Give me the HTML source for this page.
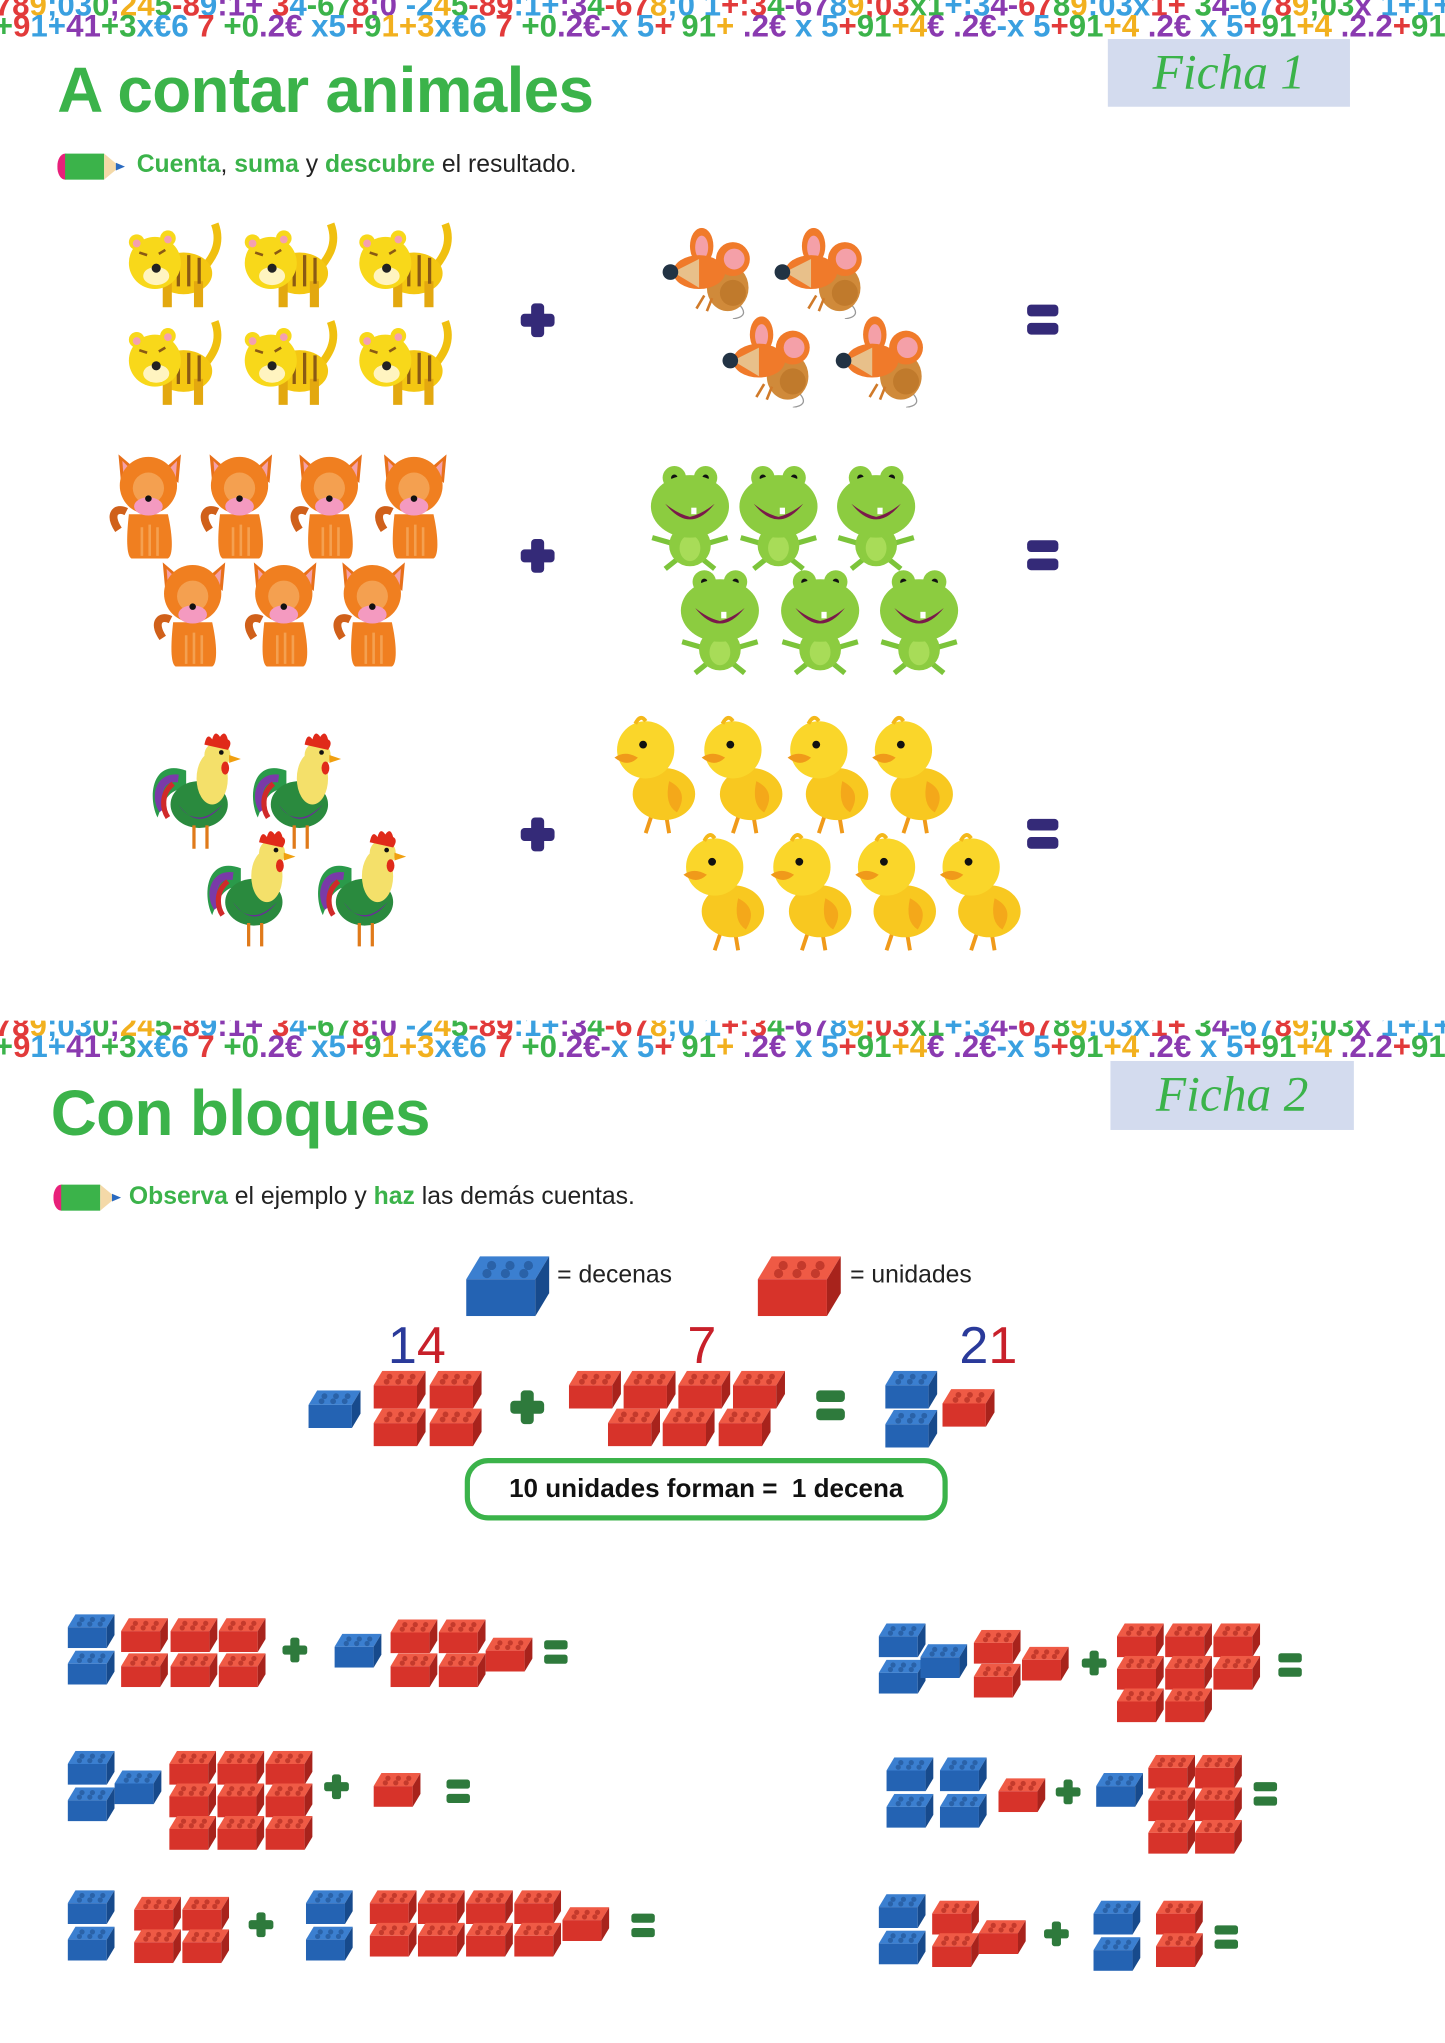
<!DOCTYPE html>
<html><head><meta charset="utf-8"><style>
html,body{margin:0;padding:0;background:#fff;}
body{width:1445px;height:2043px;overflow:hidden;position:relative;font-family:"Liberation Sans",sans-serif;}
#w{position:absolute;left:0;top:0;width:1110px;height:1569px;transform:scale(1.3018);transform-origin:0 0;}
.a{position:absolute;}
.strip{position:absolute;left:0;width:1110px;height:30px;overflow:hidden;white-space:nowrap;font:bold 24px "Liberation Sans",sans-serif;letter-spacing:0px;}
.strip div{position:absolute;left:-4px;line-height:24px;}
.tab{position:absolute;background:#d3dbee;color:#3bb34a;font:38px "Liberation Serif",serif;font-style:italic;text-align:center;}
.title{position:absolute;color:#3bb34a;font:bold 49px "Liberation Sans",sans-serif;letter-spacing:-0.5px;}
.ins{position:absolute;font:19px "Liberation Sans",sans-serif;color:#222;}
.ins b{color:#3bb34a;}
</style></head><body><div id="w">
<svg width="0" height="0" style="position:absolute">
<defs>
<symbol id="rb" viewBox="0 0 36 26"><polygon points="6,0 36,0 30,10 0,10" fill="#ef5a45"/><polygon points="0,10 30,10 30,26 0,26" fill="#d7332a"/><polygon points="30,10 36,0 36,16 30,26" fill="#a8231c"/><circle cx="11" cy="4" r="2" fill="#c43a2c"/><circle cx="19" cy="4" r="2" fill="#c43a2c"/><circle cx="27" cy="4" r="2" fill="#c43a2c"/><circle cx="9" cy="7.5" r="2" fill="#c43a2c"/><circle cx="17" cy="7.5" r="2" fill="#c43a2c"/><circle cx="25" cy="7.5" r="2" fill="#c43a2c"/></symbol>
<symbol id="bb" viewBox="0 0 36 26"><polygon points="6,0 36,0 30,10 0,10" fill="#3b7fd0"/><polygon points="0,10 30,10 30,26 0,26" fill="#2463b3"/><polygon points="30,10 36,0 36,16 30,26" fill="#174a8c"/><circle cx="11" cy="4" r="2" fill="#2a62a8"/><circle cx="19" cy="4" r="2" fill="#2a62a8"/><circle cx="27" cy="4" r="2" fill="#2a62a8"/><circle cx="9" cy="7.5" r="2" fill="#2a62a8"/><circle cx="17" cy="7.5" r="2" fill="#2a62a8"/><circle cx="25" cy="7.5" r="2" fill="#2a62a8"/></symbol>
<symbol id="tiger" viewBox="0 0 88 72"><path d="M62,40 C70,30 78,20 72,4" stroke="#f0c010" stroke-width="6" fill="none"/><ellipse cx="48" cy="42" rx="22" ry="16" fill="#f4c712"/><rect x="32" y="48" width="7" height="20" fill="#e3a80f"/><rect x="56" y="48" width="7" height="20" fill="#e3a80f"/><path d="M44,30 v22 M52,28 v24 M60,30 v20" stroke="#8a5a14" stroke-width="2.5"/><circle cx="26" cy="34" r="20" fill="#f8d81a"/><circle cx="12" cy="18" r="6" fill="#f8d81a"/><circle cx="36" cy="15" r="6" fill="#f8d81a"/><circle cx="12" cy="19" r="3" fill="#f4a0b0"/><circle cx="36" cy="16" r="3" fill="#f4a0b0"/><ellipse cx="27" cy="44" rx="10" ry="7" fill="#fff4c0"/><circle cx="27" cy="38" r="3.5" fill="#222"/><path d="M14,26 l6,2 M34,24 l-5,3" stroke="#8a5a14" stroke-width="2"/></symbol>
<symbol id="mouse" viewBox="0 0 80 70"><path d="M60,58 q10,10 -4,12" stroke="#999" fill="none"/><ellipse cx="52" cy="46" rx="16" ry="18" fill="#d08a3a"/><circle cx="56" cy="50" r="10" fill="#c07a2c"/><ellipse cx="32" cy="14" rx="9" ry="14" fill="#f07a2a"/><ellipse cx="32" cy="15" rx="5" ry="9" fill="#f4a0a8"/><circle cx="56" cy="24" r="13" fill="#f07a2a"/><circle cx="57" cy="24" r="8" fill="#f4a0a8"/><ellipse cx="30" cy="34" rx="20" ry="13" fill="#f07a2a"/><path d="M10,34 L30,24 L30,46 Z" fill="#e8c08a"/><circle cx="8" cy="34" r="6" fill="#223344"/><path d="M34,52 l-6,10 M40,54 l-4,10" stroke="#d07a2a" stroke-width="2"/></symbol>
<symbol id="cat" viewBox="0 0 62 85"><path d="M8,62 C0,50 6,44 14,48" stroke="#d0601a" stroke-width="6" fill="none"/><path d="M16,50 C14,68 14,82 18,84 H46 C50,82 50,68 46,50 Z" fill="#f07f20"/><path d="M26,60 v22 M32,58 v24 M38,60 v22" stroke="#f4a050" stroke-width="2"/><polygon points="8,4 22,16 10,26" fill="#e8701a"/><polygon points="56,4 42,16 54,26" fill="#e8701a"/><polygon points="11,9 19,17 12,22" fill="#f4a0a8"/><polygon points="53,9 45,17 52,22" fill="#f4a0a8"/><circle cx="31" cy="28" r="22" fill="#f07f20"/><circle cx="31" cy="30" r="12" fill="#f4a050"/><ellipse cx="31" cy="44" rx="11" ry="7" fill="#f49ac0"/><circle cx="31" cy="38" r="2.5" fill="#111"/></symbol>
<symbol id="frog" viewBox="0 0 70 82"><path d="M6,56 l14,4 M64,56 l-14,4 M16,80 l10,-8 M54,80 l-10,-8" stroke="#7cc43a" stroke-width="4"/><ellipse cx="35" cy="62" rx="16" ry="16" fill="#8ccc40"/><ellipse cx="35" cy="64" rx="8" ry="10" fill="#a8dc58"/><circle cx="23" cy="10" r="9" fill="#8ccc40"/><circle cx="47" cy="10" r="9" fill="#8ccc40"/><circle cx="23" cy="10" r="2.5" fill="#111"/><circle cx="47" cy="10" r="2.5" fill="#111"/><ellipse cx="35" cy="32" rx="30" ry="24" fill="#8ccc40"/><path d="M16,30 Q35,54 54,30 Q44,38 35,40 Q26,38 16,30 Z" fill="#7a1a4a"/><rect x="36" y="33" width="4" height="5" fill="#fff"/></symbol>
<symbol id="rooster" viewBox="0 0 75 93"><path d="M30,30 C4,20 0,50 8,66 C14,50 18,44 30,44" fill="#2a9a4a"/><path d="M24,36 C8,34 6,52 12,60" stroke="#7a3aa8" stroke-width="6" fill="none"/><path d="M20,40 C10,48 12,60 16,66" stroke="#d02a2a" stroke-width="4" fill="none"/><ellipse cx="40" cy="56" rx="22" ry="18" fill="#2a8a3e"/><path d="M24,56 Q40,78 58,56 Q48,66 40,66 Q30,66 24,56Z" fill="#6a2a9a"/><ellipse cx="50" cy="36" rx="12" ry="20" fill="#f4e06a"/><circle cx="54" cy="18" r="10" fill="#f4e06a"/><path d="M44,10 q2,-10 6,-4 q2,-8 6,-2 q4,-6 6,2 q4,2 0,8 Z" fill="#e02a1a"/><polygon points="63,18 72,21 63,24" fill="#f0a010"/><ellipse cx="60" cy="28" rx="3" ry="5" fill="#e02a1a"/><circle cx="57" cy="16" r="1.8" fill="#111"/><path d="M36,72 v18 M46,72 v18" stroke="#e07a1a" stroke-width="2.5"/></symbol>
<symbol id="duck" viewBox="0 0 68 95"><path d="M30,80 l-4,12 M42,80 l2,12" stroke="#f09a1a" stroke-width="3"/><ellipse cx="40" cy="62" rx="24" ry="20" fill="#f8c820"/><path d="M44,52 Q60,60 50,76 Q40,70 44,52Z" fill="#f4a81a"/><circle cx="26" cy="28" r="22" fill="#fad62a"/><circle cx="24" cy="24" r="3" fill="#111"/><path d="M2,34 Q10,28 20,34 Q12,42 2,34Z" fill="#f09a1a"/><path d="M18,8 q4,-8 8,-2" stroke="#f4b81a" stroke-width="3" fill="none"/></symbol>
<symbol id="pencil" viewBox="0 0 55 22"><ellipse cx="6" cy="11" rx="6" ry="10" fill="#e8207a"/><rect x="6" y="1" width="30" height="20" fill="#3bb34a"/><polygon points="36,1 48,11 36,21" fill="#f4d9a8"/><polygon points="45,8 52,11 45,14" fill="#2a6ac0"/></symbol>
</defs></svg>

<div class="strip" style="top:0"><div style="top:-7px"><span style="color:#e23a3a">78</span><span style="color:#f2b01e">9</span><span style="color:#3aa0e0">;03</span><span style="color:#3bb34a">0</span><span style="color:#8a3ab0">;</span><span style="color:#f2b01e">24</span><span style="color:#3bb34a">5</span><span style="color:#e23a3a">-8</span><span style="color:#3aa0e0">9</span><span style="color:#8a3ab0">:1+</span><span style="color:#e23a3a"> 3</span><span style="color:#3aa0e0">4</span><span style="color:#3bb34a">-67</span><span style="color:#e23a3a">8</span><span style="color:#8a3ab0">;0</span><span style="color:#3aa0e0"> -2</span><span style="color:#f2b01e">4</span><span style="color:#3bb34a">5</span><span style="color:#e23a3a">-89</span><span style="color:#3aa0e0">:1+</span><span style="color:#8a3ab0">:3</span><span style="color:#3bb34a">4</span><span style="color:#e23a3a">-67</span><span style="color:#f2b01e">8</span><span style="color:#3aa0e0">;0 1</span><span style="color:#e23a3a">+:3</span><span style="color:#3bb34a">4</span><span style="color:#8a3ab0">-67</span><span style="color:#3aa0e0">8</span><span style="color:#f2b01e">9</span><span style="color:#e23a3a">;03</span><span style="color:#3bb34a">x1</span><span style="color:#3aa0e0">+:3</span><span style="color:#8a3ab0">4-</span><span style="color:#e23a3a">67</span><span style="color:#3bb34a">8</span><span style="color:#f2b01e">9</span><span style="color:#3aa0e0">:03x</span><span style="color:#e23a3a">1+</span><span style="color:#3bb34a"> 3</span><span style="color:#8a3ab0">4</span><span style="color:#3aa0e0">-67</span><span style="color:#e23a3a">8</span><span style="color:#f2b01e">9</span><span style="color:#3bb34a">;03</span><span style="color:#8a3ab0">x</span><span style="color:#3aa0e0"> 1+1+</span><span style="color:#e23a3a">78</span><span style="color:#f2b01e">9</span><span style="color:#3aa0e0">;0</span></div><div style="top:9px"><span style="color:#3bb34a">+</span><span style="color:#e23a3a">9</span><span style="color:#3aa0e0">1+</span><span style="color:#8a3ab0">41</span><span style="color:#3bb34a">+3</span><span style="color:#3aa0e0">x€6</span><span style="color:#e23a3a"> 7 </span><span style="color:#3bb34a">+0</span><span style="color:#8a3ab0">.2€</span><span style="color:#3aa0e0"> x5</span><span style="color:#e23a3a">+</span><span style="color:#3bb34a">9</span><span style="color:#f2b01e">1+3</span><span style="color:#3aa0e0">x€6</span><span style="color:#e23a3a"> 7 </span><span style="color:#3bb34a">+0</span><span style="color:#8a3ab0">.2€-</span><span style="color:#3aa0e0">x 5</span><span style="color:#e23a3a">+</span><span style="color:#3bb34a"> 91</span><span style="color:#f2b01e">+</span><span style="color:#8a3ab0"> .2€</span><span style="color:#3aa0e0"> x 5</span><span style="color:#e23a3a">+</span><span style="color:#3bb34a">91</span><span style="color:#f2b01e">+4</span><span style="color:#8a3ab0">€ .2€</span><span style="color:#3aa0e0">-x 5</span><span style="color:#e23a3a">+</span><span style="color:#3bb34a">91</span><span style="color:#f2b01e">+4</span><span style="color:#8a3ab0"> .2€</span><span style="color:#3aa0e0"> x 5</span><span style="color:#e23a3a">+</span><span style="color:#3bb34a">91</span><span style="color:#f2b01e">+4</span><span style="color:#8a3ab0"> .2.2</span><span style="color:#e23a3a">+</span><span style="color:#3bb34a">91+</span></div></div>
<div class="strip" style="top:784px"><div style="top:-7px"><span style="color:#e23a3a">78</span><span style="color:#f2b01e">9</span><span style="color:#3aa0e0">;03</span><span style="color:#3bb34a">0</span><span style="color:#8a3ab0">;</span><span style="color:#f2b01e">24</span><span style="color:#3bb34a">5</span><span style="color:#e23a3a">-8</span><span style="color:#3aa0e0">9</span><span style="color:#8a3ab0">:1+</span><span style="color:#e23a3a"> 3</span><span style="color:#3aa0e0">4</span><span style="color:#3bb34a">-67</span><span style="color:#e23a3a">8</span><span style="color:#8a3ab0">;0</span><span style="color:#3aa0e0"> -2</span><span style="color:#f2b01e">4</span><span style="color:#3bb34a">5</span><span style="color:#e23a3a">-89</span><span style="color:#3aa0e0">:1+</span><span style="color:#8a3ab0">:3</span><span style="color:#3bb34a">4</span><span style="color:#e23a3a">-67</span><span style="color:#f2b01e">8</span><span style="color:#3aa0e0">;0 1</span><span style="color:#e23a3a">+:3</span><span style="color:#3bb34a">4</span><span style="color:#8a3ab0">-67</span><span style="color:#3aa0e0">8</span><span style="color:#f2b01e">9</span><span style="color:#e23a3a">;03</span><span style="color:#3bb34a">x1</span><span style="color:#3aa0e0">+:3</span><span style="color:#8a3ab0">4-</span><span style="color:#e23a3a">67</span><span style="color:#3bb34a">8</span><span style="color:#f2b01e">9</span><span style="color:#3aa0e0">:03x</span><span style="color:#e23a3a">1+</span><span style="color:#3bb34a"> 3</span><span style="color:#8a3ab0">4</span><span style="color:#3aa0e0">-67</span><span style="color:#e23a3a">8</span><span style="color:#f2b01e">9</span><span style="color:#3bb34a">;03</span><span style="color:#8a3ab0">x</span><span style="color:#3aa0e0"> 1+1+</span><span style="color:#e23a3a">78</span><span style="color:#f2b01e">9</span><span style="color:#3aa0e0">;0</span></div><div style="top:9px"><span style="color:#3bb34a">+</span><span style="color:#e23a3a">9</span><span style="color:#3aa0e0">1+</span><span style="color:#8a3ab0">41</span><span style="color:#3bb34a">+3</span><span style="color:#3aa0e0">x€6</span><span style="color:#e23a3a"> 7 </span><span style="color:#3bb34a">+0</span><span style="color:#8a3ab0">.2€</span><span style="color:#3aa0e0"> x5</span><span style="color:#e23a3a">+</span><span style="color:#3bb34a">9</span><span style="color:#f2b01e">1+3</span><span style="color:#3aa0e0">x€6</span><span style="color:#e23a3a"> 7 </span><span style="color:#3bb34a">+0</span><span style="color:#8a3ab0">.2€-</span><span style="color:#3aa0e0">x 5</span><span style="color:#e23a3a">+</span><span style="color:#3bb34a"> 91</span><span style="color:#f2b01e">+</span><span style="color:#8a3ab0"> .2€</span><span style="color:#3aa0e0"> x 5</span><span style="color:#e23a3a">+</span><span style="color:#3bb34a">91</span><span style="color:#f2b01e">+4</span><span style="color:#8a3ab0">€ .2€</span><span style="color:#3aa0e0">-x 5</span><span style="color:#e23a3a">+</span><span style="color:#3bb34a">91</span><span style="color:#f2b01e">+4</span><span style="color:#8a3ab0"> .2€</span><span style="color:#3aa0e0"> x 5</span><span style="color:#e23a3a">+</span><span style="color:#3bb34a">91</span><span style="color:#f2b01e">+4</span><span style="color:#8a3ab0"> .2.2</span><span style="color:#e23a3a">+</span><span style="color:#3bb34a">91+</span></div></div>

<div class="tab" style="left:851px;top:30px;width:186px;height:52px;line-height:52px;">Ficha 1</div>
<div class="tab" style="left:853px;top:815px;width:187px;height:53px;line-height:53px;">Ficha 2</div>

<div class="title" style="left:44px;top:42px;">A contar animales</div>
<svg class="a" style="left:44px;top:117px" width="55" height="22"><use href="#pencil"/></svg>
<div class="ins" style="left:105px;top:116px;"><b>Cuenta</b>, <b>suma</b> y <b>descubre</b> el resultado.</div>

<div class="title" style="left:39px;top:828px;">Con bloques</div>
<svg class="a" style="left:41px;top:909px" width="55" height="22"><use href="#pencil"/></svg>
<div class="ins" style="left:99px;top:909px;"><b>Observa</b> el ejemplo y <b>haz</b> las demás cuentas.</div>

<svg class="a" style="left:0;top:0" width="1110" height="780">
<use href="#tiger" x="93" y="168" width="88" height="72"/><use href="#tiger" x="182" y="168" width="88" height="72"/><use href="#tiger" x="270" y="168" width="88" height="72"/>
<use href="#tiger" x="93" y="243" width="88" height="72"/><use href="#tiger" x="182" y="243" width="88" height="72"/><use href="#tiger" x="270" y="243" width="88" height="72"/>
<use href="#mouse" x="507" y="175" width="80" height="70"/><use href="#mouse" x="593" y="175" width="80" height="70"/><use href="#mouse" x="553" y="243" width="80" height="70"/><use href="#mouse" x="640" y="243" width="80" height="70"/>
<use href="#cat" x="83" y="345" width="62" height="85"/><use href="#cat" x="153" y="345" width="62" height="85"/><use href="#cat" x="222" y="345" width="62" height="85"/><use href="#cat" x="287" y="345" width="62" height="85"/>
<use href="#cat" x="117" y="428" width="62" height="85"/><use href="#cat" x="187" y="428" width="62" height="85"/><use href="#cat" x="255" y="428" width="62" height="85"/>
<use href="#frog" x="495" y="357" width="70" height="82"/><use href="#frog" x="563" y="357" width="70" height="82"/><use href="#frog" x="638" y="357" width="70" height="82"/>
<use href="#frog" x="518" y="437" width="70" height="82"/><use href="#frog" x="595" y="437" width="70" height="82"/><use href="#frog" x="671" y="437" width="70" height="82"/>
<use href="#rooster" x="113" y="562" width="75" height="93"/><use href="#rooster" x="190" y="562" width="75" height="93"/><use href="#rooster" x="155" y="637" width="75" height="93"/><use href="#rooster" x="240" y="637" width="75" height="93"/>
<use href="#duck" x="470" y="548" width="68" height="95"/><use href="#duck" x="537" y="548" width="68" height="95"/><use href="#duck" x="603" y="548" width="68" height="95"/><use href="#duck" x="668" y="548" width="68" height="95"/>
<use href="#duck" x="523" y="638" width="68" height="95"/><use href="#duck" x="590" y="638" width="68" height="95"/><use href="#duck" x="655" y="638" width="68" height="95"/><use href="#duck" x="720" y="638" width="68" height="95"/>
<g fill="#342a78">
<rect x="408" y="233" width="10" height="26" rx="3"/><rect x="400" y="241" width="26" height="10" rx="3"/>
<rect x="408" y="414" width="10" height="26" rx="3"/><rect x="400" y="422" width="26" height="10" rx="3"/>
<rect x="408" y="628" width="10" height="26" rx="3"/><rect x="400" y="636" width="26" height="10" rx="3"/>
<rect x="789" y="234" width="24" height="9" rx="3"/><rect x="789" y="248" width="24" height="9" rx="3"/>
<rect x="789" y="415" width="24" height="9" rx="3"/><rect x="789" y="429" width="24" height="9" rx="3"/>
<rect x="789" y="629" width="24" height="9" rx="3"/><rect x="789" y="643" width="24" height="9" rx="3"/>
</g></svg>

<div class="ins" style="left:428px;top:969px;font-size:19px;">= decenas</div>
<div class="ins" style="left:653px;top:969px;font-size:19px;">= unidades</div>
<div class="a" style="left:298px;top:1012px;font:40px 'Liberation Sans',sans-serif;"><span style="color:#2a3a9a">1</span><span style="color:#c8202a">4</span></div>
<div class="a" style="left:528px;top:1012px;font:40px 'Liberation Sans',sans-serif;color:#c8202a">7</div>
<div class="a" style="left:737px;top:1012px;font:40px 'Liberation Sans',sans-serif;"><span style="color:#2a3a9a">2</span><span style="color:#c8202a">1</span></div>
<div class="a" style="left:357px;top:1120px;width:363px;height:40px;border:4px solid #3bb34a;border-radius:18px;text-align:center;font:bold 20px/40px 'Liberation Sans',sans-serif;color:#111;">10 unidades forman =&nbsp; 1 decena</div>

<svg class="a" style="left:0;top:900px" width="1110" height="669" viewBox="0 900 1110 669">
<use href="#bb" x="357" y="965" width="66" height="46"/><use href="#rb" x="581" y="965" width="66" height="46"/>
<use href="#bb" x="237" y="1068"  width="40" height="29"/>
<use href="#rb" x="287" y="1053" width="40" height="29"/><use href="#rb" x="330" y="1053" width="40" height="29"/><use href="#rb" x="287" y="1082" width="40" height="29"/><use href="#rb" x="330" y="1082" width="40" height="29"/>
<use href="#rb" x="437" y="1053" width="40" height="29"/><use href="#rb" x="479" y="1053" width="40" height="29"/><use href="#rb" x="521" y="1053" width="40" height="29"/><use href="#rb" x="563" y="1053" width="40" height="29"/>
<use href="#rb" x="467" y="1082" width="40" height="29"/><use href="#rb" x="509" y="1082" width="40" height="29"/><use href="#rb" x="552" y="1082" width="40" height="29"/>
<use href="#bb" x="680" y="1053" width="40" height="29"/><use href="#bb" x="680" y="1083" width="40" height="29"/><use href="#rb" x="724" y="1067" width="40" height="29"/>

<use href="#bb" x="52" y="1240" width="36" height="26"/><use href="#bb" x="52" y="1268" width="36" height="26"/>
<use href="#rb" x="93" y="1243" width="36" height="26"/><use href="#rb" x="131" y="1243" width="36" height="26"/><use href="#rb" x="168" y="1243" width="36" height="26"/>
<use href="#rb" x="93" y="1270" width="36" height="26"/><use href="#rb" x="131" y="1270" width="36" height="26"/><use href="#rb" x="168" y="1270" width="36" height="26"/>
<use href="#bb" x="257" y="1255" width="36" height="26"/>
<use href="#rb" x="300" y="1244" width="36" height="26"/><use href="#rb" x="337" y="1244" width="36" height="26"/><use href="#rb" x="300" y="1270" width="36" height="26"/><use href="#rb" x="337" y="1270" width="36" height="26"/><use href="#rb" x="373" y="1258" width="36" height="26"/>
<use href="#bb" x="675" y="1247" width="36" height="26"/><use href="#bb" x="675" y="1275" width="36" height="26"/><use href="#bb" x="707" y="1263" width="36" height="26"/>
<use href="#rb" x="748" y="1252" width="36" height="26"/><use href="#rb" x="748" y="1278" width="36" height="26"/><use href="#rb" x="785" y="1265" width="36" height="26"/>
<use href="#rb" x="858" y="1247" width="36" height="26"/><use href="#rb" x="895" y="1247" width="36" height="26"/><use href="#rb" x="932" y="1247" width="36" height="26"/>
<use href="#rb" x="858" y="1272" width="36" height="26"/><use href="#rb" x="895" y="1272" width="36" height="26"/><use href="#rb" x="932" y="1272" width="36" height="26"/>
<use href="#rb" x="858" y="1297" width="36" height="26"/><use href="#rb" x="895" y="1297" width="36" height="26"/>
<use href="#bb" x="52" y="1345" width="36" height="26"/><use href="#bb" x="52" y="1373" width="36" height="26"/><use href="#bb" x="88" y="1360" width="36" height="26"/>
<use href="#rb" x="130" y="1345" width="36" height="26"/><use href="#rb" x="167" y="1345" width="36" height="26"/><use href="#rb" x="204" y="1345" width="36" height="26"/>
<use href="#rb" x="130" y="1370" width="36" height="26"/><use href="#rb" x="167" y="1370" width="36" height="26"/><use href="#rb" x="204" y="1370" width="36" height="26"/>
<use href="#rb" x="130" y="1395" width="36" height="26"/><use href="#rb" x="167" y="1395" width="36" height="26"/><use href="#rb" x="204" y="1395" width="36" height="26"/>
<use href="#rb" x="287" y="1362" width="36" height="26"/>
<use href="#bb" x="681" y="1350" width="36" height="26"/><use href="#bb" x="722" y="1350" width="36" height="26"/><use href="#bb" x="681" y="1378" width="36" height="26"/><use href="#bb" x="722" y="1378" width="36" height="26"/>
<use href="#rb" x="767" y="1366" width="36" height="26"/>
<use href="#bb" x="842" y="1362" width="36" height="26"/>
<use href="#rb" x="882" y="1348" width="36" height="26"/><use href="#rb" x="918" y="1348" width="36" height="26"/><use href="#rb" x="882" y="1373" width="36" height="26"/><use href="#rb" x="918" y="1373" width="36" height="26"/><use href="#rb" x="882" y="1398" width="36" height="26"/><use href="#rb" x="918" y="1398" width="36" height="26"/>
<use href="#bb" x="52" y="1452" width="36" height="26"/><use href="#bb" x="52" y="1480" width="36" height="26"/>
<use href="#rb" x="103" y="1457" width="36" height="26"/><use href="#rb" x="140" y="1457" width="36" height="26"/><use href="#rb" x="103" y="1482" width="36" height="26"/><use href="#rb" x="140" y="1482" width="36" height="26"/>
<use href="#bb" x="235" y="1452" width="36" height="26"/><use href="#bb" x="235" y="1480" width="36" height="26"/>
<use href="#rb" x="284" y="1452" width="36" height="26"/><use href="#rb" x="321" y="1452" width="36" height="26"/><use href="#rb" x="358" y="1452" width="36" height="26"/><use href="#rb" x="395" y="1452" width="36" height="26"/>
<use href="#rb" x="284" y="1477" width="36" height="26"/><use href="#rb" x="321" y="1477" width="36" height="26"/><use href="#rb" x="358" y="1477" width="36" height="26"/><use href="#rb" x="395" y="1477" width="36" height="26"/>
<use href="#rb" x="432" y="1465" width="36" height="26"/>
<use href="#bb" x="675" y="1455" width="36" height="26"/><use href="#bb" x="675" y="1483" width="36" height="26"/>
<use href="#rb" x="716" y="1460" width="36" height="26"/><use href="#rb" x="716" y="1485" width="36" height="26"/><use href="#rb" x="752" y="1475" width="36" height="26"/>
<use href="#bb" x="840" y="1460" width="36" height="26"/><use href="#bb" x="840" y="1488" width="36" height="26"/>
<use href="#rb" x="888" y="1460" width="36" height="26"/><use href="#rb" x="888" y="1485" width="36" height="26"/>

<g fill="#2e7a3c">
<rect x="400" y="1068" width="10" height="26" rx="3"/><rect x="392" y="1076" width="26" height="10" rx="3"/>
<rect x="627" y="1068" width="22" height="9" rx="3"/><rect x="627" y="1082" width="22" height="9" rx="3"/>
<rect x="223" y="1258" width="7" height="19" rx="2"/><rect x="217" y="1264" width="19" height="7" rx="2"/>
<rect x="418" y="1260" width="18" height="7" rx="2"/><rect x="418" y="1271" width="18" height="7" rx="2"/>
<rect x="837" y="1268" width="7" height="19" rx="2"/><rect x="831" y="1274" width="19" height="7" rx="2"/>
<rect x="982" y="1270" width="18" height="7" rx="2"/><rect x="982" y="1281" width="18" height="7" rx="2"/>
<rect x="255" y="1363" width="7" height="19" rx="2"/><rect x="249" y="1369" width="19" height="7" rx="2"/>
<rect x="343" y="1367" width="18" height="7" rx="2"/><rect x="343" y="1378" width="18" height="7" rx="2"/>
<rect x="817" y="1367" width="7" height="19" rx="2"/><rect x="811" y="1373" width="19" height="7" rx="2"/>
<rect x="963" y="1369" width="18" height="7" rx="2"/><rect x="963" y="1380" width="18" height="7" rx="2"/>
<rect x="197" y="1469" width="7" height="19" rx="2"/><rect x="191" y="1475" width="19" height="7" rx="2"/>
<rect x="485" y="1470" width="18" height="7" rx="2"/><rect x="485" y="1481" width="18" height="7" rx="2"/>
<rect x="808" y="1476" width="7" height="19" rx="2"/><rect x="802" y="1482" width="19" height="7" rx="2"/>
<rect x="933" y="1479" width="18" height="7" rx="2"/><rect x="933" y="1490" width="18" height="7" rx="2"/>
</g></svg>
</div></body></html>
